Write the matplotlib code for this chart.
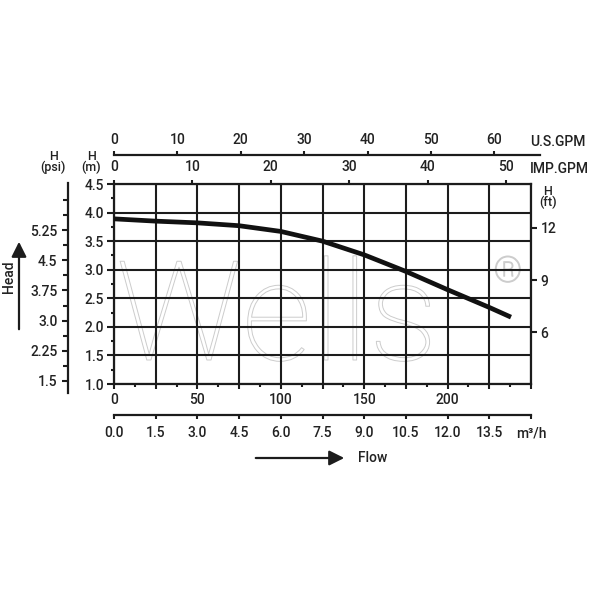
import matplotlib
matplotlib.use("Agg")
import matplotlib.pyplot as plt
import matplotlib.patheffects as pe
from matplotlib.patches import FancyArrowPatch
import numpy as np

# ---- data ----
flow_lpm = [0, 25, 50, 75, 100, 125, 150, 175, 200, 225, 238]
head_m = [3.89, 3.85, 3.82, 3.77, 3.67, 3.50, 3.26, 2.97, 2.65, 2.34, 2.17]

lpm_ticks = [0, 25, 50, 75, 100, 125, 150, 175, 200, 225, 250]
lpm_labels = ["0", "", "50", "", "100", "", "150", "", "200", "", ""]
m_ticks = [1.0, 1.5, 2.0, 2.5, 3.0, 3.5, 4.0, 4.5]
psi_ticks = [1.5, 2.25, 3.0, 3.75, 4.5, 5.25]
psi_labels = ["1.5", "2.25", "3.0", "3.75", "4.5", "5.25"]
psi_minor = [1.875, 2.625, 3.375, 4.125, 4.875, 5.625, 6.0]
ft_ticks = [6, 9, 12]
imp_ticks = [0, 10, 20, 30, 40, 50]
us_ticks = [0, 10, 20, 30, 40, 50, 60]
m3h_ticks = [0.0, 1.5, 3.0, 4.5, 6.0, 7.5, 9.0, 10.5, 12.0, 13.5, 15.0]

plt.rcParams['font.family'] = ['Roboto', 'DejaVu Sans']
TXT = '#222222'
LINE = '#1c1c1c'
FS = 10

W = H = 600.0
def fx(px):
    return px / W
def fy(py):
    return 1 - py / H

fig = plt.figure(figsize=(6, 6), dpi=100)
fig.patch.set_facecolor('white')

# ---- main axes ----
L, R, T, B = 114, 531, 184, 384
ax = fig.add_axes([fx(L), fy(B), (R - L) / W, (B - T) / H])
ax.set_xlim(0, 250)
ax.set_ylim(1.0, 4.5)
ax.set_xticks(lpm_ticks)
ax.set_xticklabels(lpm_labels)
ax.set_xticks(np.arange(12.5, 250, 25), minor=True)
ax.set_yticks(m_ticks)
ax.set_yticklabels([f"{v:.1f}" for v in m_ticks])
ax.set_yticks(np.arange(1.25, 4.5, 0.5), minor=True)
ax.grid(True, which='major', color=LINE, lw=1.5)
for s in ax.spines.values():
    s.set_color(LINE)
    s.set_linewidth(1.6)
ax.tick_params(axis='x', which='major', direction='out', length=3.5, width=1.5,
               color=LINE, labelcolor=TXT, labelsize=FS, pad=3)
ax.tick_params(axis='x', which='minor', direction='out', length=2.5, width=1.5, color=LINE)
ax.tick_params(axis='y', which='major', direction='out', length=5, width=1.5,
               color=LINE, labelcolor=TXT, labelsize=FS, pad=2)
ax.tick_params(axis='y', which='minor', direction='out', length=2.5, width=1.5, color=LINE)
for lab in ax.get_xticklabels() + ax.get_yticklabels():
    lab.set_fontweight('medium')

ax.plot(flow_lpm, head_m, color='#111111', lw=3.4, solid_capstyle='butt', zorder=4)

# watermark (outline text)
ax.text(fx(116), fy(360), "Wells", transform=fig.transFigure, fontsize=100,
        family=['Roboto', 'DejaVu Sans'], fontweight='light', color='none',
        path_effects=[pe.Stroke(linewidth=0.7, foreground='#cccccc')],
        zorder=1, clip_on=False, va='baseline', ha='left')
ax.text(fx(508), fy(272), "\u00ae", transform=fig.transFigure, fontsize=26,
        family=['Roboto', 'DejaVu Sans'], fontweight='light', color='none',
        path_effects=[pe.Stroke(linewidth=0.7, foreground='#cccccc')],
        zorder=1, clip_on=False, va='center', ha='center')

# ---- IMP.GPM (top of main axes) ----
axt = ax.twiny()
axt.set_xlim(0, (R - L) / 7.84)
axt.set_xticks(imp_ticks)
axt.tick_params(axis='x', which='major', top=True, bottom=False, labeltop=True,
                labelbottom=False, direction='out', length=3, width=1.5,
                color=LINE, labelcolor=TXT, labelsize=FS, pad=4)
for s in axt.spines.values():
    s.set_visible(False)
for lab in axt.get_xticklabels():
    lab.set_fontweight('medium')

# ---- H(ft) right ----
axr = ax.twinx()
px_per_ft = (332.3 - 227.7) / 6.0
axr.set_ylim(6 - (B - 332.3) / px_per_ft, 12 + (227.7 - T) / px_per_ft)
axr.set_yticks(ft_ticks)
axr.tick_params(axis='y', direction='out', length=4, width=1.5, color=LINE,
                labelcolor=TXT, labelsize=FS, pad=3)
for s in axr.spines.values():
    s.set_visible(False)
for lab in axr.get_yticklabels():
    lab.set_fontweight('medium')

# ---- U.S.GPM axis ----
axu = fig.add_axes([fx(114), fy(155) - 0.01, (540 - 114) / W, 0.01])
axu.set_facecolor('none')
axu.set_xlim(0, (540 - 114) / 6.34)
axu.set_xticks(us_ticks)
axu.set_yticks([])
for k, s in axu.spines.items():
    s.set_visible(k == 'top')
axu.spines['top'].set_color(LINE)
axu.spines['top'].set_linewidth(1.6)
axu.tick_params(axis='x', top=True, bottom=False, labeltop=True, labelbottom=False,
                direction='out', length=3, width=1.5, color=LINE, labelcolor=TXT,
                labelsize=FS, pad=3)
for lab in axu.get_xticklabels():
    lab.set_fontweight('medium')

# ---- m3/h axis ----
axm = fig.add_axes([fx(114), fy(415), (R - L) / W, 0.01])
axm.set_facecolor('none')
axm.set_xlim(0, 15)
axm.set_xticks(m3h_ticks)
axm.set_xticklabels([f"{v:.1f}" for v in m3h_ticks[:-1]] + ["m\u00b3/h"])
axm.set_yticks([])
for k, s in axm.spines.items():
    s.set_visible(k == 'bottom')
axm.spines['bottom'].set_color(LINE)
axm.spines['bottom'].set_linewidth(1.6)
axm.tick_params(axis='x', direction='out', length=3, width=1.5, color=LINE,
                labelcolor=TXT, labelsize=FS, pad=5)
for lab in axm.get_xticklabels():
    lab.set_fontweight('medium')

# ---- psi axis ----
p_top, p_bot = 183, 393
m_top = 1 + (B - p_top) / ((B - T) / 3.5)
m_bot = 1 + (B - p_bot) / ((B - T) / 3.5)
axp = fig.add_axes([fx(68), fy(p_bot), 0.01, (p_bot - p_top) / H])
axp.set_facecolor('none')
axp.set_ylim(m_bot / 0.70307, m_top / 0.70307)
axp.set_xticks([])
axp.set_yticks(psi_ticks)
axp.set_yticklabels(psi_labels)
axp.set_yticks(psi_minor, minor=True)
for k, s in axp.spines.items():
    s.set_visible(k == 'left')
axp.spines['left'].set_color(LINE)
axp.spines['left'].set_linewidth(1.6)
axp.tick_params(axis='y', which='major', direction='out', length=4.5, width=1.5,
                color=LINE, labelcolor=TXT, labelsize=FS, pad=3)
axp.tick_params(axis='y', which='minor', direction='out', length=3.5, width=1.5, color=LINE)
for lab in axp.get_yticklabels():
    lab.set_fontweight('medium')

# ---- labels ----
def ftext(x, y, s, size=FS, **kw):
    fig.text(fx(x), fy(y), s, fontsize=size, color=TXT, fontweight='medium',
             ha=kw.pop('ha', 'center'), va=kw.pop('va', 'center'), **kw)

ftext(53, 162, "H\n(psi)", size=9, linespacing=0.8, multialignment='center')
ftext(91, 162, "H\n(m)", size=9, linespacing=0.8, multialignment='center')
ftext(548, 197, "H\n(ft)", size=9, linespacing=0.75, multialignment='center')
ftext(530, 142, "U.S.GPM", ha='left')
ftext(530, 169, "IMP.GPM", ha='left')
ftext(358, 458, "Flow", ha='left')
ftext(9, 277, "Head", rotation=90)

fig.add_artist(FancyArrowPatch((fx(253), fy(458)), (fx(347), fy(458)),
                               transform=fig.transFigure,
                               arrowstyle='-|>,head_length=0.6,head_width=0.3',
                               mutation_scale=15, lw=1.6, color=LINE))
fig.add_artist(FancyArrowPatch((fx(19), fy(332)), (fx(19), fy(239)),
                               transform=fig.transFigure,
                               arrowstyle='-|>,head_length=0.6,head_width=0.3',
                               mutation_scale=15, lw=1.6, color=LINE))

fig.savefig("out.png", dpi=100)
